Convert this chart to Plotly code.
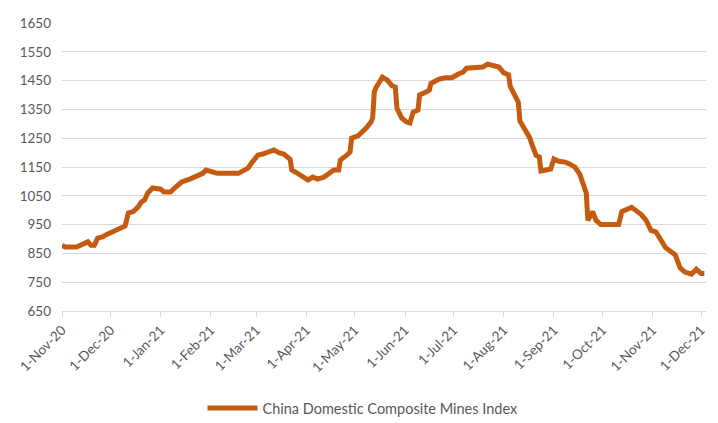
import plotly.graph_objects as go

dates = [
    "2020-11-01", "2020-11-03", "2020-11-10", "2020-11-15", "2020-11-17", "2020-11-19",
    "2020-11-21", "2020-11-23", "2020-11-26", "2020-11-29", "2020-12-02", "2020-12-07",
    "2020-12-10", "2020-12-12", "2020-12-15", "2020-12-18", "2020-12-20", "2020-12-22",
    "2020-12-24", "2020-12-27", "2020-12-30", "2021-01-01", "2021-01-03", "2021-01-07",
    "2021-01-11", "2021-01-14", "2021-01-19", "2021-01-24", "2021-01-27", "2021-01-29",
    "2021-02-01", "2021-02-05", "2021-02-18", "2021-02-21", "2021-02-24", "2021-02-26",
    "2021-03-02", "2021-03-05", "2021-03-10", "2021-03-12", "2021-03-15", "2021-03-18",
    "2021-03-22", "2021-03-23", "2021-03-26", "2021-03-30", "2021-04-02", "2021-04-05",
    "2021-04-08", "2021-04-12", "2021-04-15", "2021-04-18", "2021-04-21", "2021-04-22",
    "2021-04-26", "2021-04-28", "2021-04-29", "2021-05-03", "2021-05-08", "2021-05-11",
    "2021-05-12", "2021-05-13", "2021-05-14", "2021-05-18", "2021-05-21", "2021-05-24",
    "2021-05-26", "2021-05-27", "2021-05-30", "2021-06-02", "2021-06-04", "2021-06-06",
    "2021-06-09", "2021-06-10", "2021-06-14", "2021-06-16", "2021-06-17", "2021-06-22",
    "2021-06-26", "2021-06-30", "2021-07-04", "2021-07-07", "2021-07-09", "2021-07-14",
    "2021-07-19", "2021-07-22", "2021-07-29", "2021-08-01", "2021-08-04", "2021-08-05",
    "2021-08-07", "2021-08-10", "2021-08-11", "2021-08-15", "2021-08-17", "2021-08-19",
    "2021-08-21", "2021-08-23", "2021-08-24", "2021-08-30", "2021-09-01", "2021-09-04",
    "2021-09-08", "2021-09-11", "2021-09-14", "2021-09-17", "2021-09-20", "2021-09-21",
    "2021-09-22", "2021-09-25", "2021-09-27", "2021-09-30", "2021-10-11", "2021-10-13",
    "2021-10-19", "2021-10-25", "2021-10-28", "2021-10-31", "2021-11-03", "2021-11-09",
    "2021-11-15", "2021-11-18", "2021-11-21", "2021-11-25", "2021-11-28", "2021-12-01",
    "2021-12-03",
]

index_values = [
    878, 872, 872, 886, 890, 878,
    878, 903, 907, 917, 924, 938,
    945, 990, 995, 1011, 1028, 1035,
    1060, 1077, 1077, 1073, 1063, 1063,
    1084, 1098, 1108, 1118, 1128, 1139,
    1133, 1128, 1128, 1139, 1146, 1163,
    1191, 1195, 1202, 1209, 1200, 1195,
    1177, 1140, 1130, 1115, 1105, 1115,
    1108, 1115, 1130, 1140, 1140, 1174,
    1191, 1202, 1250, 1258, 1285, 1306,
    1320, 1410, 1425, 1462, 1452, 1432,
    1428, 1354, 1320, 1306, 1303, 1340,
    1348, 1400, 1410, 1417, 1440, 1455,
    1460, 1460, 1473, 1480, 1493, 1497,
    1497, 1507, 1497, 1477, 1470, 1430,
    1410, 1375, 1310, 1270, 1252, 1220,
    1190, 1185, 1136, 1143, 1178, 1170,
    1167, 1160, 1150, 1125, 1080, 1060,
    965, 995, 965, 950, 950, 995,
    1010, 985, 965, 930, 925, 870,
    845, 800, 785, 778, 795, 780,
    780,
]

tick_dates = [
    "2020-11-01", "2020-12-01", "2021-01-01", "2021-02-01", "2021-03-01", "2021-04-01",
    "2021-05-01", "2021-06-01", "2021-07-01", "2021-08-01", "2021-09-01", "2021-10-01",
    "2021-11-01", "2021-12-01",
]
tick_labels = [
    "1-Nov-20", "1-Dec-20", "1-Jan-21", "1-Feb-21", "1-Mar-21", "1-Apr-21",
    "1-May-21", "1-Jun-21", "1-Jul-21", "1-Aug-21", "1-Sep-21", "1-Oct-21",
    "1-Nov-21", "1-Dec-21",
]

series_name = "China Domestic Composite Mines Index"
line_color = "#C55A11"
text_color = "#595959"
grid_color = "#D9D9D9"
font_family = "Lato, Carlito, 'Liberation Sans', sans-serif"

# page body has an 8px margin, so the figure is sized to fit inside it
fig_w, fig_h = 710, 415

fig = go.Figure()
fig.add_trace(go.Scatter(
    x=dates, y=index_values, mode="lines", name=series_name,
    line=dict(color=line_color, width=5),
))

fig.update_layout(
    width=fig_w, height=fig_h,
    margin=dict(l=54, r=12, t=15, b=112, autoexpand=False),
    paper_bgcolor="white", plot_bgcolor="white",
    font=dict(family=font_family, size=13, color=text_color),
    showlegend=True,
    legend=dict(orientation="h", x=0.5, xanchor="center", xref="container",
                y=15 / fig_h, yanchor="middle", yref="container",
                font=dict(size=14.5, color=text_color), itemwidth=50),
)
fig.update_xaxes(
    type="date", range=["2020-11-01", "2021-12-04"],
    tickvals=tick_dates, ticktext=tick_labels, tickangle=-45,
    showgrid=False, showline=True, linecolor=grid_color, linewidth=1,
    ticks="outside", ticklen=5, tickcolor=grid_color,
    tickfont=dict(size=13.5, color=text_color),
)
fig.update_yaxes(
    range=[650, 1650], tick0=650, dtick=100,
    showgrid=True, gridcolor=grid_color, gridwidth=1,
    zeroline=False, showline=False, ticks="",
    ticklabelstandoff=10,
    tickfont=dict(size=13.5, color=text_color),
)

fig.write_html("out.html")
